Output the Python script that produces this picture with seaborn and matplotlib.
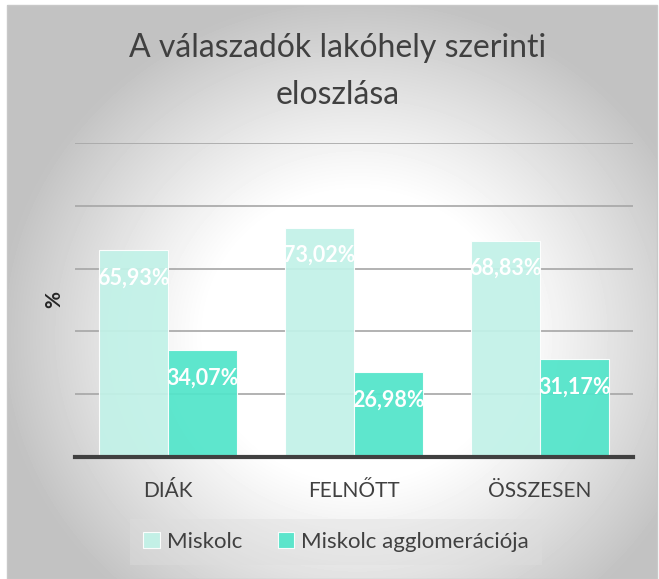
import numpy as np
import pandas as pd
import seaborn as sns
import matplotlib.pyplot as plt
from matplotlib.patches import Rectangle

# adatok
kategoriak = ["DIÁK", "FELNŐTT", "ÖSSZESEN"]
miskolc = [65.93, 73.02, 68.83]
agglomeracio = [34.07, 26.98, 31.17]
sorozatok = ["Miskolc", "Miskolc agglomerációja"]
szinek = ["#c2f2e8", "#52e5ca"]

df = pd.DataFrame({
    "kategoria": kategoriak * 2,
    "sorozat": [sorozatok[0]] * 3 + [sorozatok[1]] * 3,
    "ertek": miskolc + agglomeracio,
})

sns.set_style("white")
plt.rcParams["font.family"] = ["Lato", "DejaVu Sans"]

W, H = 659, 579
fig = plt.figure(figsize=(W / 100, H / 100), dpi=100, facecolor="white")

# háttér: sugaras szürke átmenet
bg = fig.add_axes([7 / W, 0, 650 / W, 574 / H], zorder=-5)
yy, xx = np.mgrid[0:574, 0:650]
r = np.sqrt(((xx - 350) / 360) ** 2 + ((yy - 330) / 340) ** 2)
shade = 1 - 0.24 * np.clip((r - 0.42) / 0.58, 0, 1) ** 1.1
bg.imshow(shade, cmap="gray", vmin=0, vmax=1, aspect="auto", extent=[0, 1, 0, 1])
bg.set_axis_off()
fig.patches.append(Rectangle((7 / W, 0), 650 / W, 574 / H, transform=fig.transFigure,
                             fill=False, edgecolor="#c8c8c8", linewidth=1, zorder=-4))

ax = fig.add_axes([75 / W, 1 - 457 / H, 558 / W, 314 / H])
ax.set_facecolor("none")

sns.barplot(data=df, x="kategoria", y="ertek", hue="sorozat", palette=szinek,
            saturation=1, width=0.74, gap=0, edgecolor="white", linewidth=0.8,
            alpha=0.93, legend=True, ax=ax, zorder=3)

ax.set_ylim(0, 100)
ax.set_yticks([20, 40, 60, 80, 100])
ax.yaxis.grid(True, color="#a6a6a6", linewidth=1.2, zorder=0)
ax.tick_params(axis="y", left=False, labelleft=False)
ax.tick_params(axis="x", bottom=False, labelsize=15, labelcolor="#404040", pad=14)
ax.set_xlabel("")
ax.set_ylabel("%", fontsize=15, fontweight="bold", color="#262626", labelpad=8)
for s in ["top", "right", "left"]:
    ax.spines[s].set_visible(False)
ax.spines["bottom"].set_color("#404040")
ax.spines["bottom"].set_linewidth(3)
ax.spines["bottom"].set_zorder(4)

# adatcímkék
for cont in ax.containers:
    for bar in cont:
        h = bar.get_height()
        ax.annotate(f"{h:.2f}%".replace(".", ","),
                    xy=(bar.get_x() + bar.get_width() / 2, h),
                    xytext=(0, -20), textcoords="offset points",
                    ha="center", va="center", fontsize=15.5, fontweight="bold",
                    color="white", zorder=5)

fig.suptitle("A válaszadók lakóhely szerinti\neloszlása", x=338 / W, y=1 - 33 / H,
             fontsize=23, color="#404040", va="top", linespacing=1.7)

leg = ax.legend(loc="center", bbox_to_anchor=(336 / W, 1 - 542 / H),
                bbox_transform=fig.transFigure, ncol=2, frameon=True,
                fontsize=16, handlelength=0.75, handleheight=0.75, handletextpad=0.3,
                columnspacing=1.6, borderpad=0.6, borderaxespad=0, fancybox=False)
leg.get_frame().set_facecolor("#dedede")
leg.get_frame().set_alpha(0.4)
leg.get_frame().set_edgecolor("none")
for t in leg.get_texts():
    t.set_color("#404040")

fig.savefig("out.png", dpi=100)
